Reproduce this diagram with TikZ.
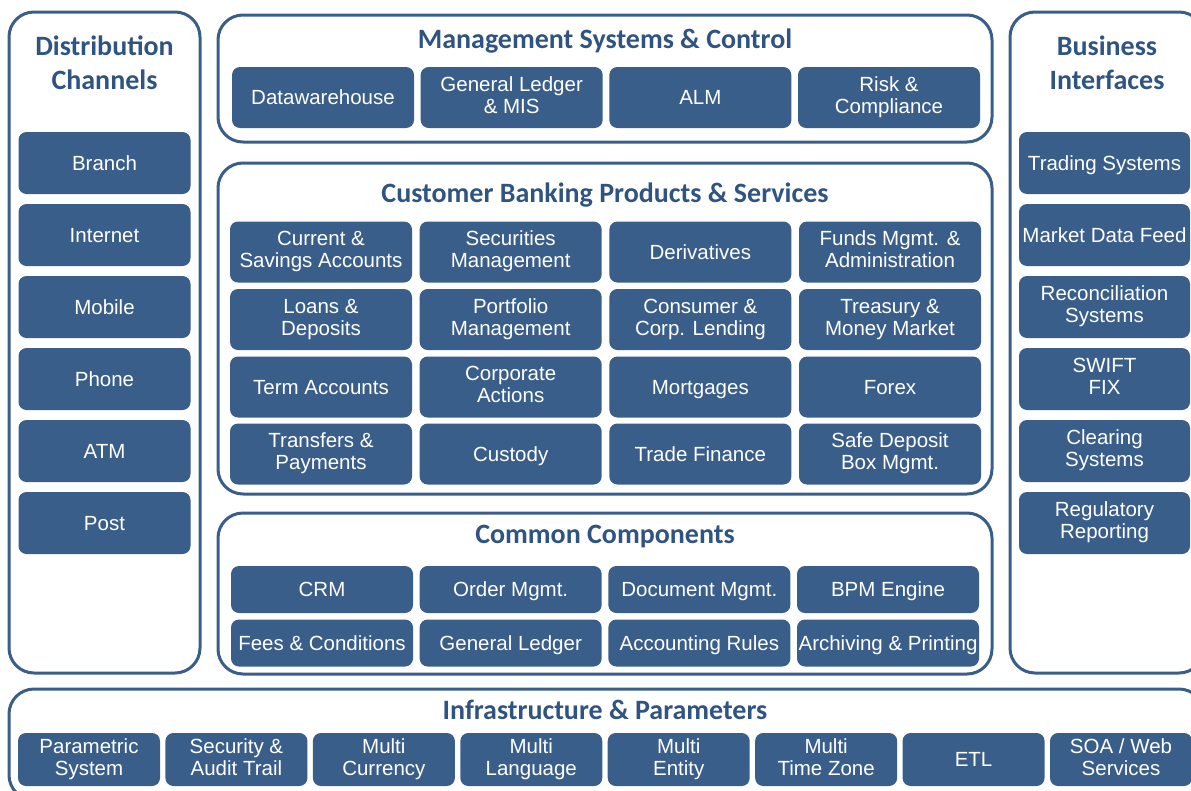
\documentclass[tikz,border=0pt]{standalone}
\usepackage{fontspec}
\setmainfont{Liberation Sans}
\newfontfamily\titlefont{Carlito}
\definecolor{bx}{RGB}{58,94,138}
\definecolor{tt}{RGB}{48,84,130}
\newcommand{\itemstrut}{\rule[-5pt]{0pt}{24pt}}
\tikzset{
  outer/.style={draw=bx, line width=3pt, rounded corners=25pt},
  item/.style={fill=bx, rounded corners=8pt, text=white, inner sep=0pt, align=center,
    font=\fontsize{20.5}{22}\selectfont,
    execute at begin node=\itemstrut, execute at end node=\itemstrut},
  ttl/.style={text=tt, inner sep=0pt, align=center, font=\titlefont\bfseries\fontsize{28}{34}\selectfont},
}
\begin{document}
\begin{tikzpicture}[x=1pt,y=-1pt]
\useasboundingbox (0,0) rectangle (1191,790);
\clip (0,0) rectangle (1191,790);
% outer frames
\draw[outer] (9,12) rectangle (200,673);
\draw[outer] (1010,12) rectangle (1204,673);
\draw[outer] (218,15) rectangle (992,142);
\draw[outer] (218,163) rectangle (992,494);
\draw[outer] (218,513) rectangle (992,674);
\draw[outer] (9,689) rectangle (1204,800);
% titles
\node[ttl] (tdist) at (104.5,63) {Distribution\\Channels};
\node[ttl] (tbus) at (1107,63) {Business\\Interfaces};
\node[ttl] (tman) at (605,41) {Management Systems \& Control};
\node[ttl] (tcust) at (605,195) {Customer Banking Products \& Services};
\node[ttl] (tcom) at (605,537) {Common Components};
\node[ttl] (tinf) at (605,710) {Infrastructure \& Parameters};
% distribution channels
\foreach \t [count=\i from 0] in {Branch,Internet,Mobile,Phone,ATM,Post}
  \node[item, minimum width=172pt, minimum height=62pt] (dc\i) at (104.5,{163+\i*72}) {\t};
% business interfaces
\foreach \t [count=\i from 0] in {Trading Systems,Market Data Feed,Reconciliation\\Systems,SWIFT\\FIX,Clearing\\Systems,Regulatory\\Reporting}
  \node[item, minimum width=171pt, minimum height=62pt] (bi\i) at (1104.5,{163+\i*72}) {\t};
% management
\foreach \t [count=\i from 0] in {Datawarehouse,General Ledger\\\& MIS,ALM,Risk \&\\Compliance}
  \node[item, minimum width=182pt, minimum height=61pt] (ms\i) at ({323+\i*188.67},97.5) {\t};
% customer banking
\foreach \t [count=\i from 0] in {Current \&\\Savings Accounts,Securities\\Management,Derivatives,Funds Mgmt. \&\\Administration}
  \node[item, minimum width=182pt, minimum height=61pt] (cb0\i) at ({321+\i*189.67},252) {\t};
\foreach \t [count=\i from 0] in {Loans \&\\Deposits,Portfolio\\Management,Consumer \&\\Corp. Lending,Treasury \&\\Money Market}
  \node[item, minimum width=182pt, minimum height=61pt] (cb1\i) at ({321+\i*189.67},319.5) {\t};
\foreach \t [count=\i from 0] in {Term Accounts,Corporate\\Actions,Mortgages,Forex}
  \node[item, minimum width=182pt, minimum height=61pt] (cb2\i) at ({321+\i*189.67},387) {\t};
\foreach \t [count=\i from 0] in {Transfers \&\\Payments,Custody,Trade Finance,Safe Deposit\\Box Mgmt.}
  \node[item, minimum width=182pt, minimum height=61pt] (cb3\i) at ({321+\i*189.67},454) {\t};
% common components
\foreach \t [count=\i from 0] in {CRM,Order Mgmt.,Document Mgmt.,BPM Engine}
  \node[item, minimum width=182pt, minimum height=47pt] (cc0\i) at ({322+\i*188.67},589.5) {\t};
\foreach \t [count=\i from 0] in {Fees \& Conditions,General Ledger,Accounting Rules,Archiving \& Printing}
  \node[item, minimum width=182pt, minimum height=47pt] (cc1\i) at ({322+\i*188.67},643) {\t};
% infrastructure
\foreach \t [count=\i from 0] in {Parametric\\System,Security \&\\Audit Trail,Multi\\Currency,Multi\\Language,Multi\\Entity,Multi\\Time Zone,ETL,SOA / Web\\Services}
  \node[item, minimum width=142pt, minimum height=53pt] (ip\i) at ({89+\i*147.43},759.5) {\t};
\end{tikzpicture}
\end{document}
